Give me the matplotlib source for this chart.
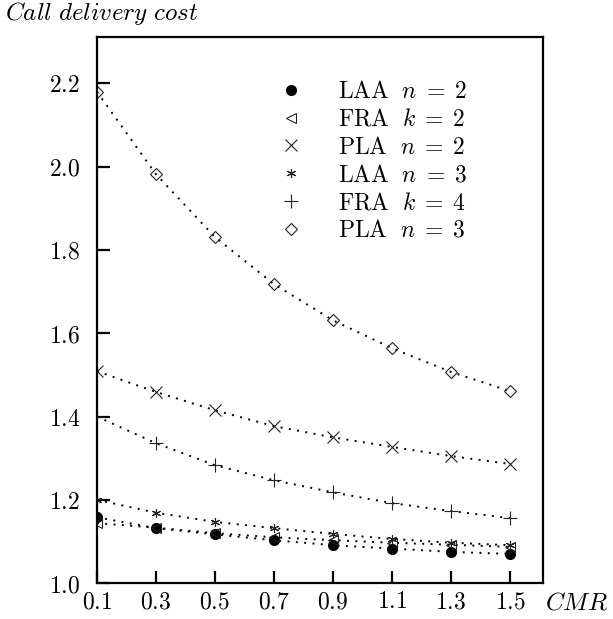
import matplotlib
matplotlib.use("Agg")
import matplotlib.pyplot as plt

plt.rcParams['mathtext.fontset'] = 'cm'
plt.rcParams['font.family'] = 'serif'
plt.rcParams['font.serif'] = ['DejaVu Serif']

cmr = [0.1, 0.3, 0.5, 0.7, 0.9, 1.1, 1.3, 1.5]

laa_n2 = [1.158, 1.132, 1.117, 1.103, 1.091, 1.083, 1.075, 1.070]
fra_k2 = [1.144, 1.133, 1.120, 1.110, 1.103, 1.097, 1.092, 1.087]
pla_n2 = [1.509, 1.459, 1.415, 1.377, 1.350, 1.327, 1.305, 1.286]
laa_n3 = [1.200, 1.169, 1.147, 1.132, 1.118, 1.106, 1.097, 1.091]
fra_k4 = [1.400, 1.336, 1.283, 1.247, 1.218, 1.192, 1.173, 1.156]
pla_n3 = [2.180, 1.982, 1.831, 1.718, 1.631, 1.564, 1.507, 1.461]

series = [
    (laa_n2, r'$\mathrm{LAA}\ \ n\;=\;2$', dict(marker='o', ms=7, mfc='black', mec='black')),
    (fra_k2, r'$\mathrm{FRA}\ \ k\;=\;2$', dict(marker='<', ms=6.5, mfc='none', mec='#222222', mew=0.8)),
    (pla_n2, r'$\mathrm{PLA}\ \ n\;=\;2$', dict(marker='x', ms=8, mec='#222222', mew=0.8)),
    (laa_n3, r'$\mathrm{LAA}\ \ n\;=\;3$', dict(marker=(6, 2, 0), ms=6.5, mec='#222222', mew=0.8)),
    (fra_k4, r'$\mathrm{FRA}\ \ k\;=\;4$', dict(marker='+', ms=9.5, mec='#222222', mew=0.8)),
    (pla_n3, r'$\mathrm{PLA}\ \ n\;=\;3$', dict(marker='D', ms=6, mfc='none', mec='#222222', mew=0.8)),
]

fig = plt.figure(figsize=(6.13, 6.19), dpi=100)
ax = fig.add_axes([0.158, 0.058, 0.728, 0.882])

for vals, label, mk in series:
    ax.plot(cmr, vals, color='black', lw=1.4, linestyle=(0, (1, 3.3)), **mk, label=label)

ax.set_xlim(0.1, 1.612)
ax.set_ylim(1.0, 2.311)
ax.set_xticks(cmr)
ax.set_xticklabels([f'${v:.1f}$' for v in cmr])
yt = [1.0, 1.2, 1.4, 1.6, 1.8, 2.0, 2.2]
ax.set_yticks(yt)
ax.set_yticklabels([f'${v:.1f}$' for v in yt])
ax.tick_params(direction='in', length=9, width=1.6, labelsize=17)
ax.tick_params(axis='y', pad=12)
ax.tick_params(axis='x', pad=5)
for s in ax.spines.values():
    s.set_linewidth(1.6)

leg = ax.legend(loc='upper left', bbox_to_anchor=(0.36, 0.96), frameon=False,
                fontsize=17, handlelength=1.0, handletextpad=1.5,
                labelspacing=0.2, numpoints=1)
for h in leg.legend_handles:
    h.set_linestyle('none')

fig.text(0.008, 0.978, r'$\mathit{Call\ delivery\ cost}$', fontsize=18, va='center', ha='left')
fig.text(0.889, 0.026, r'$\mathit{CMR}$', fontsize=18, va='center', ha='left')

fig.savefig('out.png', dpi=100)
